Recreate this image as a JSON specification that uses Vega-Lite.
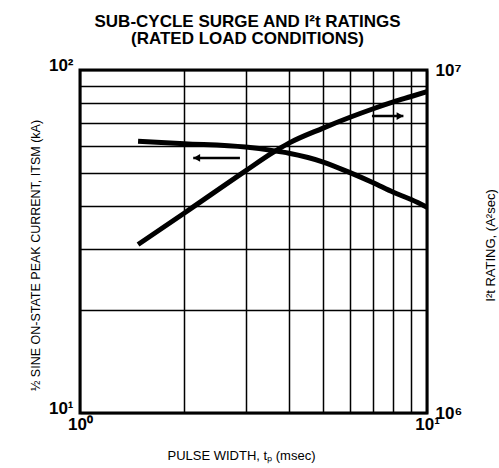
{
  "$schema": "https://vega.github.io/schema/vega-lite/v6.json",
  "width": 347,
  "height": 343,
  "autosize": {"type": "none"},
  "padding": {"left": 80, "top": 70, "right": 72, "bottom": 55},
  "background": "white",
  "title": {
    "text": ["SUB-CYCLE SURGE AND I²t RATINGS", "(RATED LOAD CONDITIONS)"],
    "font": "Liberation Sans",
    "fontSize": 17,
    "fontWeight": "bold",
    "lineHeight": 17.5,
    "color": "black",
    "anchor": "middle",
    "frame": "group",
    "dx": -6,
    "offset": 8
  },
  "config": {
    "view": {"stroke": "black", "strokeWidth": 3},
    "axis": {
      "labelFont": "Liberation Sans",
      "labelFontSize": 17,
      "labelFontWeight": "bold",
      "labelColor": "black",
      "titleFont": "Liberation Sans",
      "titleFontSize": 12.5,
      "titleFontWeight": "normal",
      "titleColor": "black",
      "ticks": false,
      "domain": false,
      "gridColor": "black",
      "gridOpacity": 1,
      "gridWidth": 1.5,
      "labelOverlap": false,
      "labelBound": false,
      "labelFlush": false
    }
  },
  "datasets": {
    "surge": [
      {"t": 1.47, "v": 62.0},
      {"t": 2, "v": 61.0},
      {"t": 3, "v": 59.6},
      {"t": 3.6, "v": 58.2},
      {"t": 4, "v": 57.2},
      {"t": 5, "v": 54.0},
      {"t": 6, "v": 50.2},
      {"t": 7, "v": 46.9},
      {"t": 8, "v": 44.0},
      {"t": 9, "v": 41.9},
      {"t": 10, "v": 39.8}
    ],
    "i2t": [
      {"t": 1.47, "v": 3100000},
      {"t": 2, "v": 3830000},
      {"t": 3, "v": 5080000},
      {"t": 3.6, "v": 5750000},
      {"t": 4, "v": 6120000},
      {"t": 5, "v": 6760000},
      {"t": 6, "v": 7280000},
      {"t": 7, "v": 7710000},
      {"t": 8, "v": 8070000},
      {"t": 9, "v": 8370000},
      {"t": 10, "v": 8650000}
    ],
    "arrowL": [
      {"t": 2.12, "v": 55.4},
      {"t": 2.89, "v": 55.4}
    ],
    "headL": [
      {"t": 2.17, "v": 55.4}
    ],
    "arrowR": [
      {"t": 6.94, "v": 7340000},
      {"t": 8.55, "v": 7340000}
    ],
    "headR": [
      {"t": 8.36, "v": 7340000}
    ]
  },
  "encoding": {
    "x": {
      "field": "t",
      "type": "quantitative",
      "scale": {"type": "log", "domain": [1, 10], "nice": false},
      "axis": {
        "orient": "bottom",
        "values": [1, 2, 3, 4, 5, 6, 7, 8, 9, 10],
        "grid": true,
        "labelExpr": "datum.value == 1 ? '10⁰' : (datum.value == 10 ? '10¹' : '')",
        "labelAlign": "center",
        "labelBaseline": "top",
        "labelPadding": 3,
        "labelDx": -4,
        "title": "PULSE WIDTH, tₚ (msec)",
        "titleFontSize": 13,
        "titleX": 161,
        "titleY": 42,
        "titleAlign": "center",
        "titleBaseline": "middle",
        "titleAnchor": null
      }
    }
  },
  "layer": [
    {
      "encoding": {
        "y": {
          "field": "v",
          "type": "quantitative",
          "scale": {"type": "log", "domain": [10, 100], "nice": false},
          "axis": {
            "orient": "left",
            "values": [10, 20, 30, 40, 50, 60, 70, 80, 90, 100],
            "grid": true,
            "labelExpr": "datum.value == 100 ? '10²' : (datum.value == 10 ? '10¹' : '')",
            "labelAlign": "right",
            "labelBaseline": "alphabetic",
            "labelPadding": 7,
            "title": "½ SINE ON-STATE PEAK CURRENT, ITSM (kA)",
            "titleX": -45,
            "titleY": 185,
            "titleAngle": -90,
            "titleAlign": "center",
            "titleBaseline": "middle"
          }
        }
      },
      "layer": [
        {
          "data": {"name": "surge"},
          "mark": {"type": "line", "color": "black", "strokeWidth": 5, "interpolate": "monotone", "strokeCap": "butt"}
        },
        {
          "data": {"name": "arrowL"},
          "mark": {"type": "line", "color": "black", "strokeWidth": 2.5}
        },
        {
          "data": {"name": "headL"},
          "mark": {"type": "point", "shape": "triangle-left", "filled": true, "color": "black", "size": 60, "opacity": 1}
        }
      ]
    },
    {
      "encoding": {
        "y": {
          "field": "v",
          "type": "quantitative",
          "scale": {"type": "log", "domain": [1000000, 10000000], "nice": false},
          "axis": {
            "orient": "right",
            "values": [1000000, 10000000],
            "grid": false,
            "labelExpr": "datum.value == 10000000 ? '10⁷' : (datum.value == 1000000 ? '10⁶' : '')",
            "labelAlign": "left",
            "labelBaseline": "middle",
            "labelPadding": 8,
            "title": "I²t RATING, (A²sec)",
            "titleFontSize": 13,
            "titleX": 63,
            "titleY": 175,
            "titleAngle": -90,
            "titleAlign": "center",
            "titleBaseline": "middle"
          }
        }
      },
      "layer": [
        {
          "data": {"name": "i2t"},
          "mark": {"type": "line", "color": "black", "strokeWidth": 5, "interpolate": "monotone", "strokeCap": "butt"}
        },
        {
          "data": {"name": "arrowR"},
          "mark": {"type": "line", "color": "black", "strokeWidth": 2.5}
        },
        {
          "data": {"name": "headR"},
          "mark": {"type": "point", "shape": "triangle-right", "filled": true, "color": "black", "size": 60, "opacity": 1}
        }
      ]
    }
  ],
  "resolve": {"scale": {"y": "independent"}}
}
